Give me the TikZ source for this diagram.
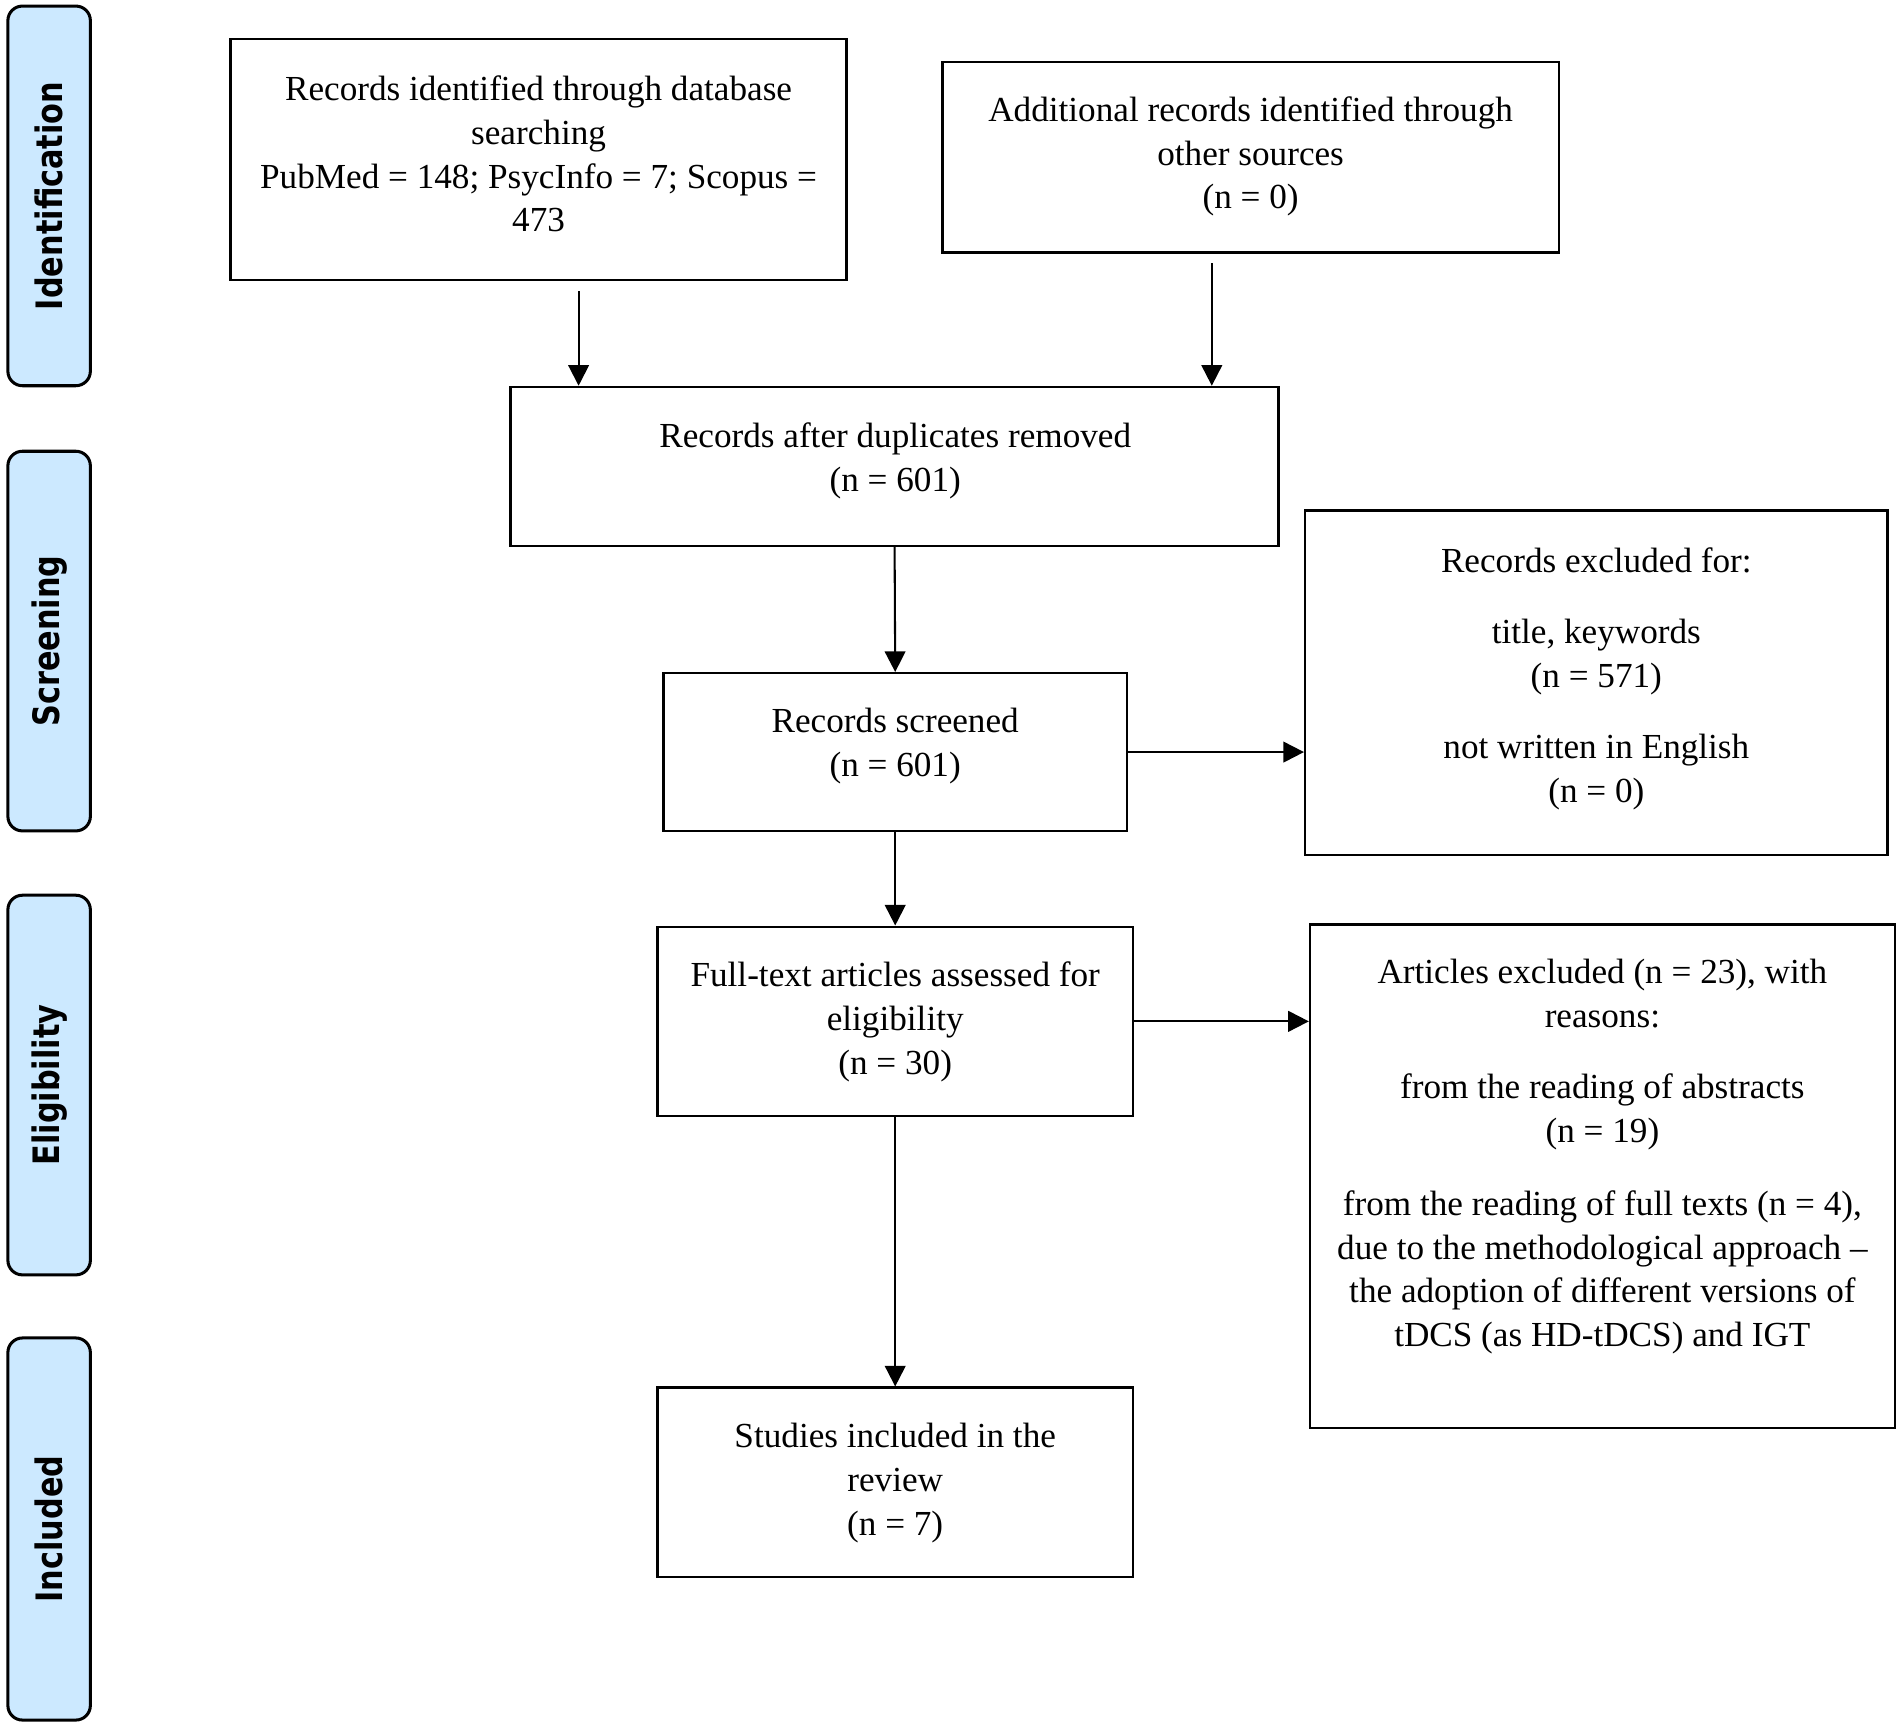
\documentclass[tikz,border=0pt]{standalone}
\usepackage{fontspec}
\setmainfont{Liberation Serif}
\newfontfamily\labfont{DejaVu Sans}
\usetikzlibrary{arrows.meta}
\definecolor{stagefill}{RGB}{204,233,255}
\begin{document}
\begin{tikzpicture}[x=1pt,y=-1pt,
  box/.style={draw,line width=2pt,inner sep=0pt},
  txt/.style={font=\fontsize{29}{36}\selectfont,align=center,inner sep=0pt},
  stage/.style={draw,line width=2.5pt,fill=stagefill,rounded corners=12pt,minimum width=68pt,inner sep=0pt},
  stagetxt/.style={font=\labfont\bfseries\fontsize{25}{30}\selectfont,rotate=90,inner sep=0pt},
  arr/.style={line width=1.7pt,-{Triangle[length=17pt,width=17pt]}}]
\useasboundingbox (0,0) rectangle (1568,1423);
% stage bars
\node[stage,minimum height=313pt] (s1) at (40.5,161.5) {};
\node[stage,minimum height=313pt] (s2) at (40.5,528.5) {};
\node[stage,minimum height=313pt] (s3) at (40.5,894.5) {};
\node[stage,minimum height=315pt] (s4) at (40.5,1260.5) {};
\node[stagetxt] (s1t) at (s1.center) {\scalebox{1}[1.2]{Identification}};
\node[stagetxt] (s2t) at (s2.center) {\scalebox{1}[1.2]{Screening}};
\node[stagetxt] (s3t) at (s3.center) {\scalebox{1}[1.2]{Eligibility}};
\node[stagetxt] (s4t) at (s4.center) {\scalebox{1}[1.2]{Included}};
% boxes
\node[box,minimum width=508pt,minimum height=199pt] (A) at (444,131.5) {};
\node[box,minimum width=508pt,minimum height=157pt] (B) at (1031,129.5) {};
\node[box,minimum width=633pt,minimum height=131pt] (C) at (737.5,384.5) {};
\node[box,minimum width=382pt,minimum height=130pt] (D) at (738,620) {};
\node[box,minimum width=480pt,minimum height=284pt] (E) at (1316,563) {};
\node[box,minimum width=392pt,minimum height=156pt] (F) at (738,842) {};
\node[box,minimum width=482pt,minimum height=415pt] (G) at (1321,969.5) {};
\node[box,minimum width=392pt,minimum height=156pt] (H) at (738,1222) {};
% texts
\node[txt] (At) at (444,127) {Records identified through database\\searching\\PubMed = 148; PsycInfo = 7; Scopus =\\473};
\node[txt] (Bt) at (1031,129) {Additional records identified through\\other sources\\(n = 0)};
\node[txt] (Ct) at (738,380) {Records after duplicates removed\\(n = 601)};
\node[txt] (Dt) at (738,615) {Records screened\\(n = 601)};
\node[txt] (Et) at (1316,559.5) {Records excluded for:\\[23pt]title, keywords\\(n = 571)\\[23pt]not written in English\\(n = 0)};
\node[txt] (Ft) at (738,842.5) {Full-text articles assessed for\\eligibility\\(n = 30)};
\node[txt] (Gt) at (1321,953.5) {Articles excluded (n = 23), with\\reasons:\\[23pt]from the reading of abstracts\\(n = 19)\\[24pt]from the reading of full texts (n = 4),\\due to the methodological approach –\\the adoption of different versions of\\tDCS (as HD-tDCS) and IGT};
\node[txt] (Ht) at (738,1222.5) {Studies included in the\\review\\(n = 7)};
% connectors
\coordinate (a1) at (477,240);
\coordinate (b1) at (999,217);
\draw[arr] (a1) -- (a1 |- C.north);
\draw[arr] (b1) -- (b1 |- C.north);
\draw[arr] (C.south) -- (D.north);
\draw[arr] (D.east) -- (D.east -| E.west);
\draw[arr] (D.south) -- (F.north);
\draw[arr] (F.east) -- (F.east -| G.west);
\draw[arr] (F.south) -- (H.north);
\end{tikzpicture}
\end{document}
